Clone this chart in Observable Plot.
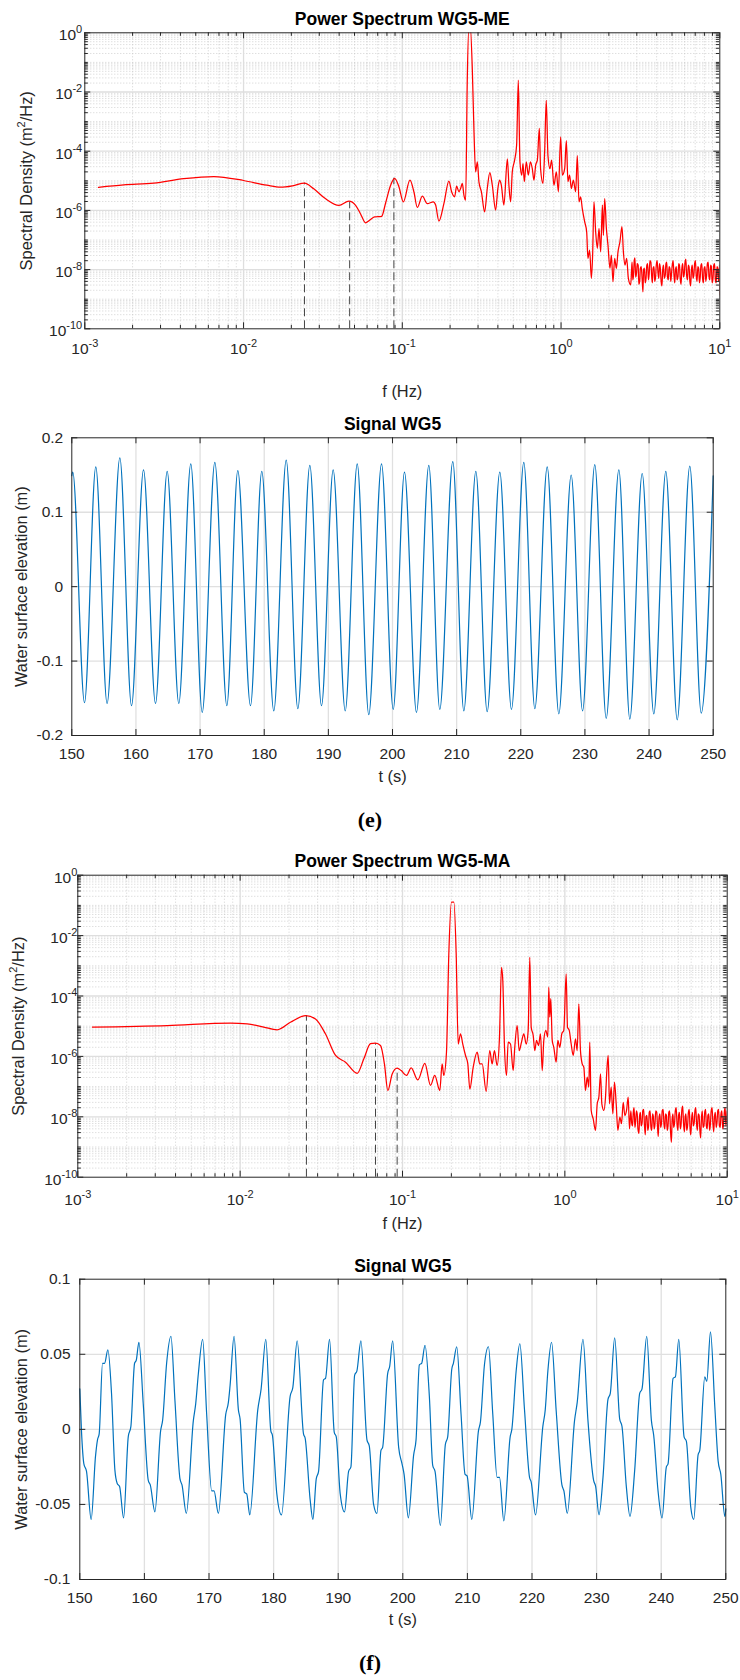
<!DOCTYPE html>
<html>
<head>
<meta charset="utf-8">
<script src="https://cdn.jsdelivr.net/npm/d3@7"></script>
<script src="https://cdn.jsdelivr.net/npm/@observablehq/plot@0.6"></script>
<style>
  html, body { margin: 0; padding: 0; background: #fff; }
  #page { position: relative; width: 740px; height: 1680px; background: #fff; overflow: hidden; }
  .panel { position: absolute; left: 0; width: 740px; }
  .panel svg { display: block; overflow: visible; }
  .cap { position: absolute; left: 0; width: 740px; text-align: center;
         font-family: "Liberation Serif", "DejaVu Serif", serif; font-weight: bold;
         font-size: 22px; line-height: 22px; color: #000; }
</style>
</head>
<body>
<div id="page"></div>
<script>
// ---------------- DATA ----------------
// Tick values
const xDecades = [1e-3, 1e-2, 1e-1, 1, 10];
const yDecadesLabeled = [1e-10, 1e-8, 1e-6, 1e-4, 1e-2, 1];
const minorMultipliers = [2, 3, 4, 5, 6, 7, 8, 9];
const timeTicks = [150, 160, 170, 180, 190, 200, 210, 220, 230, 240, 250];
const meSignalTicks = [-0.2, -0.1, 0, 0.1, 0.2];
const maSignalTicks = [-0.1, -0.05, 0, 0.05, 0.1];

// Power spectrum WG5-ME: [f (Hz), log10 of spectral density (m^2/Hz)]
const meSpectrum = [
  [0.00122,-5.22],[0.00176,-5.14],[0.00272,-5.08],[0.0042,-4.93],[0.0065,-4.855],[0.0100,-4.99],
  [0.0140,-5.15],[0.0171,-5.216],[0.0207,-5.16],[0.0242,-5.08],[0.0277,-5.27],[0.0329,-5.61],
  [0.0399,-5.83],[0.0461,-5.69],[0.0508,-5.83],[0.0546,-6.12],[0.0587,-6.42],[0.0622,-6.33],
  [0.0669,-6.22],[0.0741,-6.20],[0.0785,-5.75],[0.0844,-5.15],[0.0894,-4.92],[0.0952,-5.20],
  [0.1015,-5.71],[0.1117,-4.98],[0.1183,-5.37],[0.1243,-5.90],[0.1337,-5.52],[0.1437,-5.77],
  [0.1568,-5.71],[0.1622,-5.82],[0.170,-6.36],[0.1828,-5.77],[0.1966,-5.01],[0.2045,-5.37],
  [0.2136,-5.54],[0.2198,-5.18],[0.2273,-5.37],[0.233,-5.26],[0.2388,-5.09],[0.2444,-5.48],
  [0.2506,-5.65],[0.2567,-1.54],[0.2628,0.2],[0.268,0.2],[0.276,-1.21],[0.2825,-3.23],
  [0.2896,-4.70],[0.297,-4.36],[0.304,-5.04],[0.315,-5.37],[0.330,-6.05],[0.343,-5.26],
  [0.356,-4.72],[0.369,-5.15],[0.387,-5.99],[0.400,-5.26],[0.410,-4.98],[0.4205,-5.15],
  [0.4365,-5.82],[0.459,-4.26],[0.4695,-5.15],[0.4813,-5.71],[0.493,-4.70],[0.510,-4.30],
  [0.525,-3.79],[0.538,-1.60],[0.551,-4.36],[0.565,-4.81],[0.576,-4.42],[0.587,-5.03],
  [0.604,-4.36],[0.622,-4.81],[0.641,-4.36],[0.659,-4.59],[0.675,-4.98],[0.692,-4.47],
  [0.709,-4.30],[0.730,-3.23],[0.743,-4.59],[0.769,-5.09],[0.788,-4.04],[0.807,-2.28],
  [0.827,-4.15],[0.851,-4.59],[0.872,-4.30],[0.902,-5.15],[0.934,-4.70],[0.962,-5.37],
  [0.994,-3.52],[1.019,-4.81],[1.054,-4.59],[1.080,-3.64],[1.105,-5.03],[1.132,-4.81],
  [1.161,-5.26],[1.195,-4.98],[1.236,-5.37],[1.266,-4.15],[1.297,-5.71],[1.328,-5.54],
  [1.361,-5.94],[1.408,-6.38],[1.450,-6.72],[1.477,-7.62],[1.514,-7.34],[1.552,-8.30],
  [1.581,-7.51],[1.612,-5.71],[1.652,-6.72],[1.693,-7.28],[1.734,-6.61],[1.777,-7.40],
  [1.821,-5.82],[1.848,-6.84],[1.883,-5.60],[1.930,-6.61],[1.975,-7.17],[2.033,-7.96],
  [2.075,-7.51],[2.124,-8.41],[2.177,-7.62],[2.231,-7.96],[2.284,-7.40],[2.35,-7.06],
  [2.419,-6.55],[2.47,-7.40],[2.527,-7.85],[2.591,-7.62],[2.655,-8.30],[2.746,-8.52],
  [2.78,-8.05],[2.80,-7.75],[2.83,-8.35],[2.86,-8.20],[2.89,-7.70],[2.92,-7.60],[2.95,-8.25],
  [2.99,-8.10],[3.02,-7.80],[3.06,-7.85],[3.09,-8.50],[3.13,-8.40],[3.16,-7.95],[3.20,-7.90],
  [3.24,-8.30],[3.28,-8.75],[3.31,-8.00],[3.35,-7.95],[3.39,-8.45],[3.43,-8.30],[3.47,-7.85],
  [3.51,-7.80],[3.55,-8.35],[3.59,-8.15],[3.63,-7.70],[3.68,-7.75],[3.72,-8.20],[3.76,-8.45],
  [3.80,-7.95],[3.85,-7.90],[3.89,-8.40],[3.94,-8.25],[3.98,-7.85],[4.03,-7.70],[4.08,-8.10],
  [4.13,-8.30],[4.17,-7.80],[4.22,-7.95],[4.27,-8.40],[4.32,-8.55],[4.37,-8.00],[4.42,-7.85],
  [4.47,-8.30],[4.53,-8.20],[4.58,-7.80],[4.63,-7.75],[4.68,-8.25],[4.74,-8.35],[4.79,-7.90],
  [4.85,-7.95],[4.91,-8.40],[4.97,-8.10],[5.02,-7.85],[5.08,-7.70],[5.14,-8.15],[5.20,-8.45],
  [5.26,-8.00],[5.32,-7.90],[5.38,-8.35],[5.45,-8.25],[5.51,-7.80],[5.57,-7.85],[5.63,-8.30],
  [5.70,-8.50],[5.77,-7.95],[5.84,-7.80],[5.90,-8.25],[5.97,-8.15],[6.04,-7.75],[6.11,-7.65],
  [6.18,-8.20],[6.26,-8.35],[6.33,-7.85],[6.40,-7.90],[6.48,-8.40],[6.55,-8.55],[6.63,-8.00],
  [6.71,-7.85],[6.78,-8.30],[6.86,-8.20],[6.94,-7.80],[7.02,-7.70],[7.10,-8.20],[7.19,-8.40],
  [7.27,-7.90],[7.36,-7.95],[7.44,-8.45],[7.53,-8.25],[7.61,-7.85],[7.70,-7.80],[7.79,-8.30],
  [7.88,-8.45],[7.97,-7.95],[8.07,-7.90],[8.16,-8.40],[8.26,-8.20],[8.35,-7.80],[8.45,-7.75],
  [8.55,-8.25],[8.65,-8.35],[8.75,-7.85],[8.85,-7.90],[8.95,-8.45],[9.06,-8.30],[9.16,-7.85],
  [9.27,-7.80],[9.38,-8.35],[9.49,-8.45],[9.60,-7.90],[9.71,-7.95],[9.82,-8.40],[9.90,-8.30],
  [9.96,-7.85],[10.0,-8.85]
];
// Dashed markers WG5-ME: [f (Hz), log10 S at top of line]
const meMarkers = [[0.0242,-5.08],[0.0466,-5.72],[0.0885,-4.91]];

// Power spectrum WG5-MA: [f (Hz), log10 S]
const maSpectrum = [
  [0.00123,-5.03],[0.00356,-4.98],[0.00872,-4.90],[0.01105,-4.92],[0.01398,-5.03],[0.0169,-5.12],
  [0.0204,-4.87],[0.0253,-4.65],[0.0291,-4.76],[0.0335,-5.25],[0.0387,-5.97],[0.0446,-6.19],
  [0.0526,-6.56],[0.0578,-6.08],[0.0635,-5.58],[0.0682,-5.56],[0.0732,-5.64],[0.0774,-6.25],
  [0.0812,-7.13],[0.0864,-6.58],[0.0927,-6.39],[0.0982,-6.47],[0.1058,-6.63],[0.1131,-6.38],
  [0.1243,-6.78],[0.1373,-6.23],[0.1488,-6.96],[0.158,-6.63],[0.1697,-7.13],[0.1754,-6.25],
  [0.1796,-6.63],[0.1866,-5.86],[0.1929,-2.60],[0.2004,-0.89],[0.2071,-0.89],[0.2141,-2.60],
  [0.2203,-5.59],[0.2277,-5.25],[0.2351,-5.59],[0.2444,-5.97],[0.2525,-6.25],[0.2598,-7.08],
  [0.2725,-6.36],[0.2884,-5.86],[0.2992,-6.25],[0.3096,-6.25],[0.3277,-7.16],[0.3447,-5.81],
  [0.3566,-6.25],[0.3684,-5.81],[0.3828,-6.30],[0.3957,-5.36],[0.4072,-3.05],[0.4148,-3.49],
  [0.4249,-5.70],[0.4371,-6.63],[0.4477,-5.53],[0.4626,-5.59],[0.4804,-6.47],[0.4915,-5.70],
  [0.5085,-4.98],[0.5232,-5.81],[0.5408,-5.53],[0.5587,-5.25],[0.5781,-5.59],[0.5944,-5.14],
  [0.6082,-2.72],[0.6205,-5.03],[0.6385,-5.31],[0.6531,-5.81],[0.6689,-5.47],[0.6884,-5.64],
  [0.708,-5.25],[0.7255,-6.47],[0.742,-5.47],[0.763,-5.14],[0.785,-5.36],[0.796,-3.71],
  [0.8075,-4.70],[0.819,-4.09],[0.836,-5.47],[0.855,-5.70],[0.884,-6.19],[0.905,-5.47],
  [0.931,-5.70],[0.958,-5.25],[0.985,-5.14],[1.019,-3.27],[1.038,-5.03],[1.064,-5.14],
  [1.094,-5.59],[1.126,-5.97],[1.163,-5.42],[1.191,-5.81],[1.219,-4.26],[1.248,-5.81],
  [1.279,-6.25],[1.309,-6.36],[1.340,-7.13],[1.373,-6.69],[1.405,-7.02],[1.424,-5.53],
  [1.453,-7.79],[1.495,-8.07],[1.545,-8.45],[1.582,-7.57],[1.620,-7.35],[1.658,-6.58],
  [1.690,-7.57],[1.739,-7.79],[1.780,-7.35],[1.814,-6.47],[1.849,-5.97],[1.884,-7.57],
  [1.929,-7.02],[1.975,-7.90],[2.022,-6.85],[2.071,-7.57],[2.121,-8.45],[2.182,-8.01],
  [2.234,-8.23],[2.288,-7.52],[2.342,-7.96],[2.398,-7.79],[2.455,-7.35],[2.502,-8.40],
  [2.55,-7.80],[2.58,-8.20],[2.61,-8.30],[2.64,-7.85],[2.67,-7.70],[2.70,-8.35],[2.73,-8.15],
  [2.76,-7.80],[2.79,-7.90],[2.82,-8.40],[2.86,-8.55],[2.89,-7.95],[2.92,-7.85],[2.95,-8.30],
  [2.99,-8.20],[3.02,-7.80],[3.06,-7.75],[3.09,-8.25],[3.13,-8.60],[3.16,-8.00],[3.20,-7.95],
  [3.24,-8.45],[3.28,-8.30],[3.31,-7.85],[3.35,-7.80],[3.39,-8.35],[3.43,-8.45],[3.47,-7.90],
  [3.51,-8.00],[3.55,-8.40],[3.59,-8.25],[3.63,-7.80],[3.68,-7.85],[3.72,-8.30],[3.76,-8.65],
  [3.80,-8.05],[3.85,-7.90],[3.89,-8.35],[3.94,-8.20],[3.98,-7.80],[4.03,-7.75],[4.08,-8.25],
  [4.13,-8.40],[4.17,-7.90],[4.22,-7.95],[4.27,-8.45],[4.32,-8.30],[4.37,-7.85],[4.42,-7.80],
  [4.47,-8.40],[4.53,-8.85],[4.58,-8.10],[4.63,-7.90],[4.68,-8.35],[4.74,-8.20],[4.79,-7.80],
  [4.85,-7.70],[4.91,-8.25],[4.97,-8.45],[5.02,-7.95],[5.08,-7.85],[5.14,-8.40],[5.20,-8.25],
  [5.26,-7.75],[5.32,-7.65],[5.38,-8.20],[5.45,-8.50],[5.51,-8.00],[5.57,-7.90],[5.63,-8.45],
  [5.70,-8.30],[5.77,-7.85],[5.84,-7.75],[5.90,-8.35],[5.97,-8.60],[6.04,-8.05],[6.11,-7.85],
  [6.18,-8.30],[6.26,-8.20],[6.33,-7.80],[6.40,-7.70],[6.48,-8.25],[6.55,-8.45],[6.63,-7.90],
  [6.71,-7.95],[6.78,-8.40],[6.86,-8.70],[6.94,-8.05],[7.02,-7.80],[7.10,-8.35],[7.19,-8.30],
  [7.27,-7.85],[7.36,-7.75],[7.44,-8.30],[7.53,-8.40],[7.61,-7.95],[7.70,-7.90],[7.79,-8.45],
  [7.88,-8.25],[7.97,-7.80],[8.07,-7.70],[8.16,-8.20],[8.26,-8.50],[8.35,-8.00],[8.45,-7.85],
  [8.55,-8.35],[8.65,-8.20],[8.75,-7.80],[8.85,-7.75],[8.95,-8.30],[9.06,-8.35],[9.16,-7.90],
  [9.27,-7.80],[9.38,-8.40],[9.49,-8.25],[9.60,-7.85],[9.71,-7.70],[9.82,-8.30],[9.90,-8.15],
  [9.96,-7.80],[10.0,-7.90]
];
const maMarkers = [[0.0256,-4.65],[0.0682,-5.58],[0.0927,-6.41]];

// Signal WG5 (ME): [t (s), elevation (m)] at crests and troughs
const meSignal = [
  [150,0.149],[150.15,0.154],[151.98,-0.156],[153.74,0.161],[155.5,-0.157],[157.49,0.173],
  [159.31,-0.160],[161.18,0.157],[163.05,-0.157],[164.87,0.155],[166.68,-0.157],[168.55,0.165],
  [170.33,-0.169],[172.30,0.167],[174.17,-0.160],[175.88,0.156],[177.86,-0.160],[179.62,0.155],
  [181.49,-0.167],[183.43,0.170],[185.24,-0.164],[187.11,0.163],[188.93,-0.160],[190.75,0.157],
  [192.63,-0.167],[194.50,0.165],[196.3,-0.172],[198.29,0.165],[200.11,-0.165],[201.87,0.154],
  [203.74,-0.169],[205.66,0.163],[207.37,-0.165],[209.40,0.168],[211.12,-0.167],[212.99,0.155],
  [214.76,-0.168],[216.73,0.154],[218.55,-0.165],[220.47,0.167],[222.19,-0.164],[224.12,0.161],
  [225.93,-0.171],[227.86,0.150],[229.63,-0.167],[231.54,0.164],[233.32,-0.177],[235.29,0.157],
  [237.0,-0.178],[238.93,0.152],[240.74,-0.171],[242.61,0.155],[244.39,-0.179],[246.35,0.162],
  [248.13,-0.170],[250,0.149]
];

// Signal WG5 (MA): [t (s), elevation (m)]
const maSignal = [
  [150.0,0.027],[150.26,-0.001],[150.63,-0.023],[151.04,-0.028],[151.76,-0.060],[152.43,-0.018],
  [152.74,-0.007],[153.0,-0.003],[153.52,0.044],[153.83,0.044],[154.35,0.053],[154.91,0.024],
  [155.43,-0.027],[155.79,-0.036],[156.16,-0.038],[156.78,-0.059],[157.5,-0.005],[157.91,0.002],
  [158.48,0.044],[158.74,0.046],[159.15,0.058],[159.82,0.017],[160.6,-0.034],[160.91,-0.037],
  [161.63,-0.055],[162.51,-0.001],[162.82,0.006],[163.44,0.044],[164.11,0.062],[164.73,0.019],
  [165.51,-0.033],[165.82,-0.037],[166.49,-0.056],[167.58,0.006],[167.94,0.017],[168.35,0.037],
  [169.02,0.060],[169.64,0.010],[170.42,-0.041],[170.78,-0.041],[171.45,-0.056],[172.59,0.010],
  [173.0,0.018],[173.26,0.029],[173.88,0.062],[174.55,0.013],[174.81,0.007],[175.48,-0.042],
  [175.84,-0.043],[176.31,-0.057],[177.55,0.013],[178.07,0.027],[178.79,0.060],[179.57,-0.001],
  [179.82,-0.004],[180.5,-0.043],[181.22,-0.057],[182.56,0.022],[182.98,0.028],[183.65,0.059],
  [184.63,-0.003],[184.89,-0.006],[185.66,-0.047],[186.08,-0.060],[186.6,-0.033],[186.96,-0.028],
  [187.73,0.033],[188.04,0.034],[188.66,0.060],[189.39,-0.002],[189.7,-0.005],[190.31,-0.043],
  [190.98,-0.055],[191.61,-0.028],[191.97,-0.025],[192.54,0.036],[192.9,0.039],[193.52,0.059],
  [194.45,-0.007],[194.81,-0.011],[195.48,-0.050],[196.0,-0.056],[196.62,-0.014],[196.88,-0.012],
  [197.65,0.037],[197.97,0.042],[198.43,0.059],[199.36,-0.012],[199.88,-0.023],[200.2,-0.030],
  [200.86,-0.059],[201.68,-0.017],[202.05,-0.007],[202.56,0.043],[202.92,0.044],[203.44,0.056],
  [204.11,0.022],[204.63,-0.024],[204.99,-0.028],[205.82,-0.064],[206.59,-0.010],[206.95,-0.005],
  [207.58,0.040],[207.83,0.044],[208.35,0.055],[209.02,0.010],[209.64,-0.030],[209.95,-0.031],
  [210.68,-0.060],[211.71,-0.001],[212.02,0.005],[212.64,0.043],[213.26,0.055],[213.93,0.010],
  [214.6,-0.032],[214.97,-0.032],[215.64,-0.061],[216.62,-0.005],[216.88,0.000],[217.55,0.039],
  [218.12,0.057],[218.84,0.013],[219.62,-0.032],[219.87,-0.035],[220.55,-0.057],[221.68,0.002],
  [222.05,0.013],[222.46,0.039],[223.03,0.058],[223.75,0.012],[224.63,-0.037],[224.94,-0.041],
  [225.46,-0.056],[226.59,0.006],[227.0,0.018],[227.89,0.060],[228.66,0.006],[229.54,-0.034],
  [229.85,-0.038],[230.37,-0.057],[230.99,-0.032],[231.76,0.020],[232.12,0.024],[232.8,0.061],
  [233.57,0.007],[233.93,0.002],[234.6,-0.038],[235.17,-0.058],[235.9,-0.027],[236.67,0.024],
  [237.03,0.027],[237.76,0.062],[238.48,0.006],[238.84,-0.004],[239.51,-0.041],[240.13,-0.059],
  [240.8,-0.025],[241.06,-0.023],[241.84,0.034],[242.2,0.035],[242.72,0.060],[243.54,-0.005],
  [243.9,-0.008],[244.58,-0.052],[245.04,-0.060],[245.71,-0.017],[245.97,-0.014],[246.75,0.035],
  [247.06,0.032],[247.63,0.065],[248.3,0.015],[248.81,-0.021],[249.23,-0.030],[249.85,-0.058],
  [250.0,-0.053]
];

// ---------------- RENDER ----------------
const FONT = '"Liberation Sans", Arial, Helvetica, sans-serif';
const AX = "#262626";
const NS = "http://www.w3.org/2000/svg";
const page = document.getElementById("page");

function place(node, top) {
  const d = document.createElement("div");
  d.className = "panel";
  d.style.top = top + "px";
  d.appendChild(node);
  page.appendChild(d);
}
function caption(text, centerY) {
  const d = document.createElement("div");
  d.className = "cap";
  d.style.top = (centerY - 11) + "px";
  d.textContent = text;
  page.appendChild(d);
}
// turn "a^{b}c" into text with a raised tspan
function applySup(svg, supSize, rise) {
  svg.querySelectorAll("text").forEach(t => {
    const s = t.textContent;
    if (!s.includes("^{")) return;
    const parts = s.split(/\^\{([^}]*)\}/);
    while (t.firstChild) t.removeChild(t.firstChild);
    let raised = false;
    parts.forEach((p, i) => {
      if (p === "") return;
      const ts = document.createElementNS(NS, "tspan");
      if (i % 2 === 1) { ts.setAttribute("dy", -rise); ts.setAttribute("font-size", supSize); raised = true; }
      else if (raised) { ts.setAttribute("dy", rise); raised = false; }
      ts.textContent = p;
      t.appendChild(ts);
    });
  });
}
const expFmt = d => "10^{" + Math.round(Math.log10(d)) + "}";

function labelTexts(c, xLabel, yLabel) {
  return [
    Plot.text([c.title], {text: d => d, frameAnchor: "top", dy: c.titleDy, lineAnchor: "middle", textAnchor: "middle",
      fontWeight: "bold", fontSize: 17.5, fill: "#000"}),
    Plot.text([xLabel], {text: d => d, frameAnchor: "bottom", dy: c.xLabelDy, lineAnchor: "middle", textAnchor: "middle",
      fontSize: 16.4, fill: AX}),
    Plot.text([yLabel], {text: d => d, frameAnchor: "left", dx: c.yLabelDx, rotate: -90, lineAnchor: "middle", textAnchor: "middle",
      fontSize: 16.4, fill: AX})
  ];
}

function spectrumPlot(c) {
  const rows = c.data.map(([f, l]) => ({f, S: 10 ** l}));
  const marks = c.markers.map(([f, l]) => ({f, S: 10 ** l}));
  const fh = c.H - c.mt - c.mb, fw = 740 - c.ml - c.mr;
  const xMinor = [], yMinor = [];
  xDecades.slice(0, -1).forEach(d => minorMultipliers.forEach(m => xMinor.push(m * d)));
  for (let k = -10; k < 0; k++) {
    if (k % 2 !== 0) yMinor.push(10 ** k);
    minorMultipliers.forEach(m => yMinor.push(m * 10 ** k));
  }
  const xInner = xDecades.slice(1, -1), yInner = yDecadesLabeled.slice(1, -1);
  return Plot.plot({
    width: 740, height: c.H,
    marginTop: c.mt, marginBottom: c.mb, marginLeft: c.ml, marginRight: c.mr,
    x: {type: "log", domain: [1e-3, 10]},
    y: {type: "log", domain: [1e-10, 1]},
    style: {fontFamily: FONT, background: "transparent", overflow: "visible", color: AX},
    marks: [
      Plot.ruleX(xMinor, {stroke: "#c6c6c6", strokeWidth: 0.8, strokeDasharray: "1,2"}),
      Plot.ruleY(yMinor, {stroke: "#c6c6c6", strokeWidth: 0.8, strokeDasharray: "1,2"}),
      Plot.ruleX(xInner, {stroke: "#dedede", strokeWidth: 1.3}),
      Plot.ruleY(yInner, {stroke: "#dedede", strokeWidth: 1.3}),
      Plot.ruleX(marks, {x: "f", y1: 1e-10, y2: "S", stroke: "#444", strokeWidth: 1, strokeDasharray: "8,4"}),
      Plot.line(rows, {x: "f", y: "S", stroke: "#ff0000", strokeWidth: 1.25, clip: true, curve: "monotone-x"}),
      Plot.ruleX(xDecades, {stroke: AX, insetTop: fh - 6}),
      Plot.ruleX(xDecades, {stroke: AX, insetBottom: fh - 6}),
      Plot.ruleX(xMinor, {stroke: AX, insetTop: fh - 3.5}),
      Plot.ruleX(xMinor, {stroke: AX, insetBottom: fh - 3.5}),
      Plot.ruleY(yDecadesLabeled, {stroke: AX, insetRight: fw - 6}),
      Plot.ruleY(yDecadesLabeled, {stroke: AX, insetLeft: fw - 6}),
      Plot.ruleY(yMinor, {stroke: AX, insetRight: fw - 3.5}),
      Plot.ruleY(yMinor, {stroke: AX, insetLeft: fw - 3.5}),
      Plot.frame({stroke: AX, strokeWidth: 1}),
      Plot.axisX(xDecades, {tickSize: 0, tickPadding: c.xPad, tickFormat: expFmt, fontSize: 15.5, color: AX, label: null}),
      Plot.axisY(yDecadesLabeled, {tickSize: 0, tickPadding: c.yPad, dy: c.yDy, tickFormat: expFmt, fontSize: 15.5, color: AX, label: null}),
      ...labelTexts(c, "f (Hz)", "Spectral Density (m^{2}/Hz)")
    ]
  });
}

function signalPlot(c) {
  const fh = c.H - c.mt - c.mb, fw = 740 - c.ml - c.mr;
  const yt = c.yTicks;
  return Plot.plot({
    width: 740, height: c.H,
    marginTop: c.mt, marginBottom: c.mb, marginLeft: c.ml, marginRight: c.mr,
    x: {domain: [150, 250]},
    y: {domain: [yt[0], yt[yt.length - 1]]},
    style: {fontFamily: FONT, background: "transparent", overflow: "visible", color: AX},
    marks: [
      Plot.ruleX(timeTicks.slice(1, -1), {stroke: "#e0e0e0", strokeWidth: 1.3}),
      Plot.ruleY(yt.slice(1, -1), {stroke: "#e0e0e0", strokeWidth: 1.3}),
      Plot.line(c.data, {x: d => d[0], y: d => d[1], stroke: "#0072BD", strokeWidth: 1.2, curve: "monotone-x"}),
      Plot.ruleX(timeTicks, {stroke: AX, insetTop: fh - 6}),
      Plot.ruleX(timeTicks, {stroke: AX, insetBottom: fh - 6}),
      Plot.ruleY(yt, {stroke: AX, insetRight: fw - 6}),
      Plot.ruleY(yt, {stroke: AX, insetLeft: fw - 6}),
      Plot.frame({stroke: AX, strokeWidth: 1}),
      Plot.axisX(timeTicks, {tickSize: 0, tickPadding: c.xPad, tickFormat: d => String(d), fontSize: 15.5, color: AX, label: null}),
      Plot.axisY(yt, {tickSize: 0, tickPadding: c.yPad, tickFormat: d => String(d), fontSize: 15.5, color: AX, label: null}),
      ...labelTexts(c, "t (s)", "Water surface elevation (m)")
    ]
  });
}

// Panel 1: spectrum ME
const p1 = spectrumPlot({data: meSpectrum, markers: meMarkers, title: "Power Spectrum WG5-ME",
  H: 400, mt: 32.3, mb: 71.7, ml: 84.3, mr: 20.7, xPad: 14.5, yPad: 2.6, yDy: 2.5,
  titleDy: -13, xLabelDy: 63, yLabelDx: -57.8});
place(p1, 0); applySup(p1, "11px", 7);

// Panel 2: signal ME
const p2 = signalPlot({data: meSignal, yTicks: meSignalTicks, title: "Signal WG5",
  H: 400, mt: 37.3, mb: 65, ml: 71.3, mr: 27.3, xPad: 12.7, yPad: 8.6,
  titleDy: -13.3, xLabelDy: 41, yLabelDx: -49.8});
place(p2, 400);

caption("(e)", 820);

// Panel 3: spectrum MA
const p3 = spectrumPlot({data: maSpectrum, markers: maMarkers, title: "Power Spectrum WG5-MA",
  H: 400, mt: 34.7, mb: 63.3, ml: 77.3, mr: 13.3, xPad: 17, yPad: 0.5, yDy: 2.5,
  titleDy: -14.3, xLabelDy: 46.3, yLabelDx: -59.2});
place(p3, 840); applySup(p3, "11px", 7);

// Panel 4: signal MA
const p4 = signalPlot({data: maSignal, yTicks: maSignalTicks, title: "Signal WG5",
  H: 400, mt: 38.7, mb: 61, ml: 79.3, mr: 14.7, xPad: 12.7, yPad: 9.3,
  titleDy: -13.3, xLabelDy: 40.6, yLabelDx: -58.5});
place(p4, 1240);

caption("(f)", 1663);
</script>
</body>
</html>
